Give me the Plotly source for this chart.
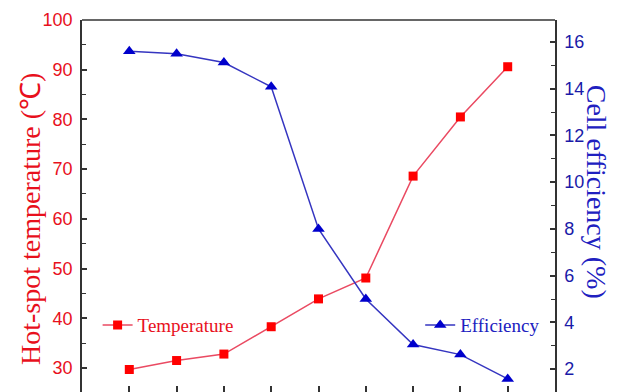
import plotly.graph_objects as go

# Data
x_values = [1, 2, 3, 4, 5, 6, 7, 8, 9]
temperature = [29.7, 31.5, 32.8, 38.3, 43.9, 48.1, 68.6, 80.5, 90.6]
efficiency = [15.6, 15.5, 15.12, 14.08, 8.0, 5.0, 3.05, 2.62, 1.58]
left_ticks = [30, 40, 50, 60, 70, 80, 90, 100]
right_ticks = [2, 4, 6, 8, 10, 12, 14, 16]

RED = "#ff0000"
RED_LINE = "#ea4a62"
BLUE = "#0000cc"
BLUE_LINE = "#3535c0"
AXIS = "#333333"
RED_TXT = "#e8101c"
BLUE_TXT = "#1a1aa8"

fig = go.Figure()
fig.add_trace(go.Scatter(
    x=x_values, y=temperature, name="Temperature", mode="lines+markers",
    line=dict(color=RED_LINE, width=1.5),
    marker=dict(symbol="square", size=9, color=RED),
    yaxis="y", legend="legend", showlegend=True))
fig.add_trace(go.Scatter(
    x=x_values, y=efficiency, name="Efficiency", mode="lines+markers",
    line=dict(color=BLUE_LINE, width=1.5),
    marker=dict(symbol="triangle-up", size=11, color=BLUE),
    yaxis="y2", legend="legend2", showlegend=True))

fig.update_layout(
    width=622, height=384,
    showlegend=True,
    margin=dict(l=74, r=75, t=12, b=0, autoexpand=False),
    plot_bgcolor="white", paper_bgcolor="white",
    xaxis=dict(range=[0, 10], tickvals=x_values, showticklabels=False,
               ticks="inside", ticklen=6, tickwidth=1.5, tickcolor=AXIS,
               showgrid=False, zeroline=False, showline=False),
    yaxis=dict(range=[25.17, 100], tickvals=left_ticks, ticks="inside",
               ticklen=5, tickwidth=1.5, tickcolor=AXIS, ticklabelstandoff=4,
               minor=dict(ticks="inside", ticklen=4, tickwidth=1.2,
                          tickcolor=AXIS, dtick=5, showgrid=False),
               showline=True, linecolor=AXIS, linewidth=1.5,
               showgrid=False, zeroline=False, automargin=False,
               tickfont=dict(family="Liberation Sans, Arial", size=18, color=RED_TXT)),
    yaxis2=dict(range=[1.02, 16.94], tickvals=right_ticks, overlaying="y",
                side="right", ticks="inside", ticklen=5, tickwidth=1.5,
                tickcolor=AXIS, ticklabelstandoff=4,
                minor=dict(ticks="inside", ticklen=4, tickwidth=1.2,
                           tickcolor=AXIS, dtick=1, showgrid=False),
                showline=True, linecolor=AXIS, linewidth=1.5,
                showgrid=False, zeroline=False, automargin=False,
                tickfont=dict(family="Liberation Sans, Arial", size=18, color=BLUE_TXT)),
    legend=dict(x=0.033, y=0.18, xanchor="left", yanchor="middle",
                bgcolor="rgba(0,0,0,0)",
                font=dict(family="Liberation Serif, Times New Roman", size=19, color=RED_TXT)),
    legend2=dict(x=0.715, y=0.18, xanchor="left", yanchor="middle",
                 bgcolor="rgba(0,0,0,0)",
                 font=dict(family="Liberation Serif, Times New Roman", size=19, color="#2020c0")),
    shapes=[dict(type="line", xref="paper", yref="paper", x0=0, x1=1, y0=1, y1=1,
                 line=dict(color=AXIS, width=1.5))],
    annotations=[
        dict(text="Hot-spot temperature (℃)", xref="paper", yref="paper",
             x=-0.11, y=0.465, textangle=-90, showarrow=False,
             xanchor="center", yanchor="middle",
             font=dict(family="Liberation Serif, Times New Roman", size=28, color=RED_TXT)),
        dict(text="Cell efficiency (%)", xref="paper", yref="paper",
             x=1.087, y=0.538, textangle=90, showarrow=False,
             xanchor="center", yanchor="middle",
             font=dict(family="Liberation Serif, Times New Roman", size=28, color="#2020c0")),
    ],
)

fig.write_html("out.html")
